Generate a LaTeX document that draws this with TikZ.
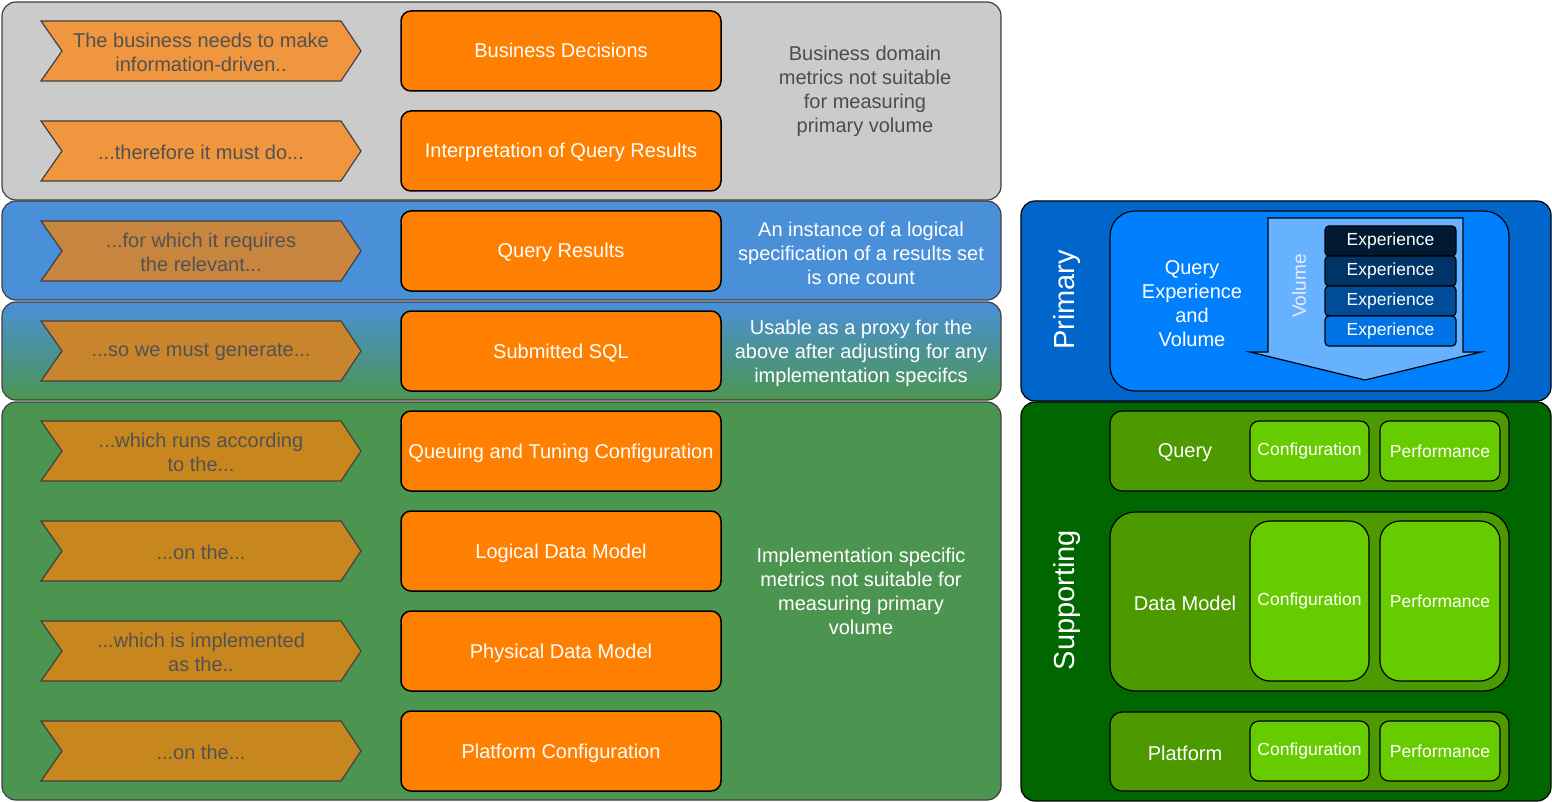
\documentclass[tikz,border=0pt]{standalone}
\usepackage{fontspec}
\setmainfont{Liberation Sans}
\usetikzlibrary{positioning}

\definecolor{bandgray}{HTML}{CBCBCB}
\definecolor{bandblue}{HTML}{4A90D9}
\definecolor{bandgreen}{HTML}{4C9550}
\definecolor{chevgray}{HTML}{EF963E}
\definecolor{chevblue}{HTML}{C88540}
\definecolor{chevmix}{HTML}{C8852E}
\definecolor{chevgreen}{HTML}{C8861E}
\definecolor{stageorange}{HTML}{FF8000}
\definecolor{primouter}{HTML}{0066CC}
\definecolor{priminner}{HTML}{0080FF}
\definecolor{volarrow}{HTML}{66B2FF}
\definecolor{suppouter}{HTML}{006600}
\definecolor{supplane}{HTML}{4D9900}
\definecolor{suppbox}{HTML}{66CC00}
\definecolor{exp1}{HTML}{001A33}
\definecolor{exp2}{HTML}{003366}
\definecolor{exp3}{HTML}{004C99}
\definecolor{exp4}{HTML}{0073E6}

\begin{document}
\begin{tikzpicture}[x=1pt,y=-1pt,
    band/.style={draw=black!75,line width=1.2pt,rounded corners=14pt},
    chev/.style={draw=black!75,line width=1.2pt},
    stagebox/.style={draw=black,line width=1.5pt,fill=stageorange,rounded corners=10pt,
      minimum width=320pt,minimum height=80pt,text=white,text height=17pt,text depth=3pt,
      font=\fontsize{20}{24}\selectfont},
    note/.style={align=center,text=white,font=\fontsize{20}{24}\selectfont},
    lane/.style={draw=black,line width=1.2pt,fill=supplane},
    metricbox/.style={draw=black,line width=1.2pt,fill=suppbox,text=white,
      font=\fontsize{17.5}{20}\selectfont,inner sep=0pt,outer sep=0pt},
    expbox/.style={draw=black,line width=1.2pt,rounded corners=4pt,text=white,
      minimum width=131pt,minimum height=30pt,inner sep=0pt,outer sep=0pt,
      font=\fontsize{17.5}{20}\selectfont}]
  \useasboundingbox (0,0) rectangle (1552,802);

  % left hand bands
  \draw[band,fill=bandgray] (2,2) rectangle (1001,200);
  \draw[band,fill=bandblue] (2,201) rectangle (1001,300);
  \draw[band,top color=bandblue,bottom color=bandgreen] (2,302) rectangle (1001,400);
  \draw[band,fill=bandgreen] (2,402) rectangle (1001,800);

  % chevrons
  \foreach \y/\c/\t in {51/chevgray/{The business needs to make\\information-driven..},
      151/chevgray/{...therefore it must do...},
      251/chevblue/{...for which it requires\\the relevant...},
      351/chevmix/{...so we must generate...},
      451/chevgreen/{...which runs according\\to the...},
      551/chevgreen/{...on the...},
      651/chevgreen/{...which is implemented\\as the..},
      751/chevgreen/{...on the...}}{
    \draw[chev,fill=\c] (41,\y-30) -- (341,\y-30) -- (361,\y) -- (341,\y+30)
      -- (41,\y+30) -- (62,\y) -- cycle;
    \node[align=center,text=black!68,font=\fontsize{20}{24}\selectfont]
      (chev\y) at (201,\y+1) {\t};
  }

  % stages
  \node[stagebox] (decisions) at (561,51) {Business Decisions};
  \node[stagebox] (interp) at (561,151) {Interpretation of Query Results};
  \node[stagebox] (results) at (561,251) {Query Results};
  \node[stagebox] (sql) at (561,351) {Submitted SQL};
  \node[stagebox] (queuing) at (561,451) {Queuing and Tuning Configuration};
  \node[stagebox] (logical) at (561,551) {Logical Data Model};
  \node[stagebox] (physical) at (561,651) {Physical Data Model};
  \node[stagebox] (platform) at (561,751) {Platform Configuration};

  % notes
  \node[note,text=black!70] (n1) at (865,91)
    {Business domain\\metrics not suitable\\for measuring\\primary volume};
  \node[note] (n2) at (861,253)
    {An instance of a logical\\specification of a results set\\is one count};
  \node[note] (n3) at (861,353)
    {Usable as a proxy for the\\above after adjusting for any\\implementation specifcs};
  \node[note] (n4) at (861,591)
    {Implementation specific\\metrics not suitable for\\measuring primary\\volume};

  % primary panel
  \draw[band,draw=black,fill=primouter] (1021,201) rectangle (1551,401);
  \node[rotate=90,text=white,font=\fontsize{29}{34}\selectfont] (primary) at (1067,300) {Primary};
  \draw[draw=black,line width=1.2pt,fill=priminner,rounded corners=25pt] (1110,211) rectangle (1509,391);
  \node[note] (qev) at (1192,304) {Query\\Experience\\and\\Volume};
  \draw[draw=black,line width=1.2pt,fill=volarrow] (1268,218) -- (1463,218) -- (1463,352)
    -- (1481,352) -- (1365,380) -- (1250,352) -- (1268,352) -- cycle;
  \node[rotate=90,text=blue!8,font=\fontsize{19}{22}\selectfont] (volume) at (1299,286) {Volume};
  \node[expbox,fill=exp1] (e1) at (1390.5,241) {Experience};
  \node[expbox,fill=exp2,below=0pt of e1] (e2) {Experience};
  \node[expbox,fill=exp3,below=0pt of e2] (e3) {Experience};
  \node[expbox,fill=exp4,below=0pt of e3] (e4) {Experience};

  % supporting panel
  \draw[band,draw=black,fill=suppouter] (1021,402) rectangle (1551,801);
  \node[rotate=90,text=white,font=\fontsize{29}{34}\selectfont] (supporting) at (1067,600) {Supporting};

  \draw[lane,rounded corners=12pt] (1110,411) rectangle (1509,491);
  \node[note] (querylane) at (1185,453) {Query};
  \node[metricbox,rounded corners=9pt,minimum width=119pt,minimum height=60pt] (qconf) at (1309.5,451) {Configuration};
  \node[metricbox,rounded corners=9pt,minimum width=120pt,minimum height=60pt,right=11pt of qconf] (qperf) {Performance};

  \draw[lane,rounded corners=25pt] (1110,512) rectangle (1509,691);
  \node[note] (modellane) at (1185,603) {Data Model};
  \node[metricbox,rounded corners=20pt,minimum width=119pt,minimum height=160pt] (mconf) at (1309.5,601) {Configuration};
  \node[metricbox,rounded corners=20pt,minimum width=120pt,minimum height=160pt,right=11pt of mconf] (mperf) {Performance};

  \draw[lane,rounded corners=12pt] (1110,712) rectangle (1509,791);
  \node[note] (platlane) at (1185,753) {Platform};
  \node[metricbox,rounded corners=9pt,minimum width=119pt,minimum height=60pt] (pconf) at (1309.5,751) {Configuration};
  \node[metricbox,rounded corners=9pt,minimum width=120pt,minimum height=60pt,right=11pt of pconf] (pperf) {Performance};
\end{tikzpicture}
\end{document}
